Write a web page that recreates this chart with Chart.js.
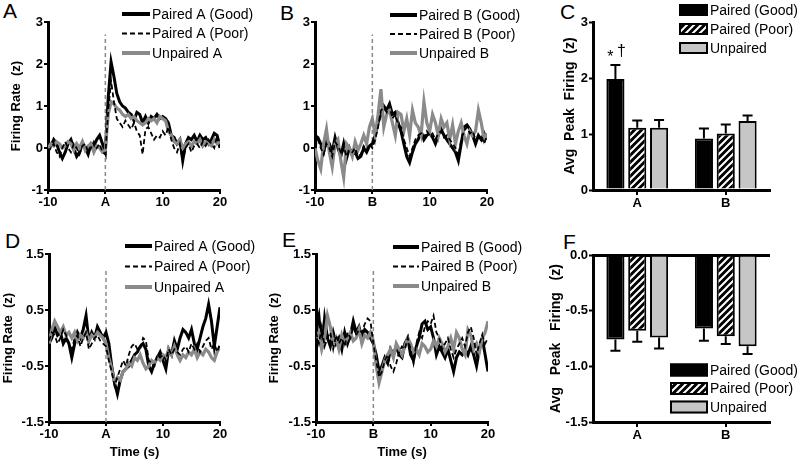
<!DOCTYPE html>
<html>
<head>
<meta charset="utf-8">
<script src="https://cdn.jsdelivr.net/npm/chart.js@4.4.1/dist/chart.umd.min.js"></script>
<style>
  body { margin: 0; background: #fff; width: 800px; height: 463px; position: relative; overflow: hidden;
         font-family: "Liberation Sans", Arial, sans-serif; }
  canvas { position: absolute; }
  .letter { position: absolute; font-size: 21px; line-height: 1; color: #000; }
</style>
</head>
<body>
<div class="letter" style="left:3px;top:0px">A</div>
<div class="letter" style="left:280px;top:2px">B</div>
<div class="letter" style="left:560px;top:1px">C</div>
<div class="letter" style="left:5px;top:230px">D</div>
<div class="letter" style="left:282px;top:229px">E</div>
<div class="letter" style="left:563px;top:231px">F</div>

<canvas id="panelA" width="265" height="225" style="left:0;top:0"></canvas>
<canvas id="panelB" width="265" height="225" style="left:265px;top:0"></canvas>
<canvas id="panelC" width="270" height="225" style="left:530px;top:0"></canvas>
<canvas id="panelD" width="265" height="238" style="left:0;top:225px"></canvas>
<canvas id="panelE" width="265" height="238" style="left:265px;top:225px"></canvas>
<canvas id="panelF" width="270" height="238" style="left:530px;top:225px"></canvas>

<script>
// time bins (s) relative to cue onset
const timeBins = [-10,-9.5,-9,-8.5,-8,-7.5,-7,-6.5,-6,-5.5,-5,-4.5,-4,-3.5,-3,-2.5,-2,-1.5,-1,-0.5,
  0,0.5,1,1.5,2,2.5,3,3.5,4,4.5,5,5.5,6,6.5,7,7.5,8,8.5,9,9.5,
  10,10.5,11,11.5,12,12.5,13,13.5,14,14.5,15,15.5,16,16.5,17,17.5,18,18.5,19,19.5,20];

// A: cue A responses
const aGood = [-0.05,0.05,0.2,0.1,-0.1,-0.25,-0.1,0.1,0.2,0.0,-0.2,-0.1,0.1,0.0,-0.15,0.1,0.05,0.2,0.3,0.1,
  -0.1,1.2,2.05,1.7,1.3,1.1,1.0,0.95,0.85,0.8,
  0.65,0.85,0.8,0.6,0.75,0.6,0.75,0.7,0.8,0.7,
  0.75,0.7,0.6,0.3,0.25,0.1,0.2,-0.3,0.1,0.25,
  0.2,0.3,0.15,0.3,0.2,0.25,0.1,0.2,0.35,0.3,0.0];
const aPoor = [-0.1,0.0,0.1,-0.1,-0.2,0.0,0.15,0.0,-0.1,0.1,0.0,-0.15,0.05,0.1,-0.1,0.0,0.15,0.0,0.1,-0.1,
  -0.15,0.9,1.6,1.1,0.7,0.6,0.5,0.65,0.55,0.45,
  0.6,0.4,0.3,-0.15,0.45,0.5,0.35,0.2,0.3,0.25,
  0.4,0.3,0.5,0.2,0.0,-0.1,0.1,-0.3,0.0,0.1,
  -0.1,0.05,0.1,0.0,0.15,0.05,0.2,0.1,0.0,0.3,0.1];
const aUnpaired = [0.0,0.1,0.05,0.15,0.1,0.0,0.05,0.15,0.1,-0.05,0.1,0.0,0.15,-0.05,0.05,0.1,-0.1,0.05,0.0,-0.1,
  -0.05,0.8,1.1,1.05,0.95,0.9,0.8,0.75,0.8,0.7,
  0.75,0.65,0.6,0.55,0.6,0.7,0.65,0.7,0.6,0.75,
  0.7,0.65,0.4,0.3,0.15,0.1,0.2,0.0,0.1,0.15,
  0.05,0.15,0.1,0.2,0.05,0.15,0.1,0.05,0.2,0.1,0.15];

// B: cue B responses
const bGood = [0.3,0.25,0.1,-0.1,0.2,0.1,-0.1,0.25,0.0,-0.2,0.1,-0.25,0.0,-0.15,-0.1,-0.25,-0.2,0.0,-0.1,0.05,
  0.1,0.3,0.6,0.8,1.0,0.9,1.05,0.8,0.85,0.6,
  0.4,0.1,-0.2,-0.35,-0.1,0.1,0.2,0.4,0.2,0.3,
  0.35,0.25,0.1,0.3,0.45,0.3,0.2,0.1,0.0,-0.1,
  -0.3,0.1,0.5,0.55,0.45,0.3,0.1,0.3,0.2,0.35,0.2];
const bPoor = [0.0,0.2,0.0,-0.15,0.1,0.0,-0.2,0.15,0.05,-0.1,0.05,-0.2,-0.05,-0.1,0.0,-0.2,-0.15,0.05,-0.05,0.1,
  0.0,0.2,0.5,0.9,0.95,0.85,1.0,0.7,0.8,0.55,
  0.5,0.2,0.0,-0.2,0.0,0.2,0.3,0.35,0.25,0.4,
  0.3,0.35,0.2,0.35,0.4,0.25,0.3,0.2,0.1,0.0,
  -0.2,0.2,0.4,0.5,0.35,0.4,0.2,0.25,0.3,0.1,0.3];
const bUnpaired = [0.0,-0.3,-0.5,0.1,0.45,-0.1,-0.45,0.1,0.2,-0.3,-0.7,0.1,0.0,-0.2,0.15,-0.05,0.1,0.3,0.1,0.5,
  0.7,0.3,0.8,1.4,0.5,0.8,0.9,0.6,0.3,0.85,
  0.8,0.4,0.7,0.3,0.9,0.6,0.5,0.3,1.1,0.6,
  0.4,0.8,0.6,0.3,0.7,0.5,0.6,0.2,0.55,0.1,
  0.4,0.6,0.3,0.1,0.4,0.3,0.4,0.9,0.6,0.2,0.35];

// D: cue A responses (second set)
const dGood = [-0.1,0.0,0.2,0.05,0.1,-0.1,0.0,-0.1,-0.35,-0.1,0.1,0.0,0.15,0.4,-0.05,0.1,0.0,0.2,0.1,0.0,
  0.1,-0.1,-0.5,-0.8,-1.0,-0.75,-0.6,-0.55,-0.5,-0.4,
  -0.3,-0.25,-0.15,-0.1,-0.2,-0.5,-0.6,-0.45,-0.35,-0.25,
  -0.4,-0.55,-0.2,-0.3,-0.05,-0.2,0.0,0.15,0.1,0.0,
  0.15,-0.1,-0.2,0.0,0.2,0.35,0.6,0.3,-0.15,0.2,0.55];
const dPoor = [-0.05,0.1,0.05,-0.1,0.0,0.15,0.05,-0.1,-0.2,0.0,0.05,-0.15,0.0,0.1,-0.2,-0.1,0.0,0.05,-0.05,-0.1,
  -0.15,-0.4,-0.6,-0.85,-0.7,-0.55,-0.4,-0.5,-0.3,-0.15,
  -0.1,-0.2,-0.2,0.0,-0.05,-0.4,-0.45,-0.5,-0.3,-0.35,
  -0.3,-0.4,-0.2,-0.3,-0.2,-0.25,-0.3,-0.2,-0.15,-0.25,
  -0.1,-0.2,-0.1,-0.25,-0.15,-0.05,0.0,-0.2,-0.1,-0.25,-0.1];
const dUnpaired = [-0.1,0.15,0.3,0.2,0.1,0.2,0.05,0.1,0.0,0.1,-0.05,0.05,0.0,0.1,-0.05,0.05,0.0,0.1,0.05,0.0,
  -0.1,-0.35,-0.55,-0.8,-0.7,-0.75,-0.6,-0.55,-0.45,-0.5,
  -0.35,-0.4,-0.3,-0.45,-0.55,-0.5,-0.4,-0.45,-0.35,-0.4,
  -0.3,-0.35,-0.2,-0.3,-0.15,-0.3,-0.4,-0.3,-0.35,-0.25,
  -0.3,-0.2,-0.35,-0.25,-0.3,-0.2,-0.25,-0.35,-0.4,-0.25,-0.15];

// E: cue B responses (second set)
const eGood = [0.2,0.4,-0.2,0.35,0.0,-0.15,0.1,-0.1,0.0,-0.2,0.1,-0.1,0.05,0.3,0.1,0.2,0.0,0.15,0.1,0.0,
  -0.1,-0.3,-0.6,-0.5,-0.35,-0.45,-0.2,-0.3,-0.15,-0.3,
  -0.35,-0.1,0.0,-0.3,-0.4,-0.15,0.0,0.25,0.3,0.15,
  0.2,0.0,-0.3,-0.15,-0.25,-0.35,-0.2,-0.4,-0.6,-0.35,
  -0.25,-0.3,-0.2,-0.3,-0.15,-0.3,-0.5,-0.2,0.0,-0.3,-0.6];
const ePoor = [0.1,-0.1,0.2,-0.15,0.0,0.1,-0.2,0.05,-0.1,0.0,-0.15,0.1,0.0,0.2,0.05,0.15,0.1,0.25,0.35,0.3,
  -0.1,-0.4,-0.7,-0.6,-0.4,-0.3,-0.5,-0.6,-0.45,-0.25,
  -0.15,-0.2,0.0,-0.2,-0.45,-0.1,0.1,0.0,0.2,0.3,
  0.25,0.4,0.1,0.0,-0.2,-0.1,0.0,-0.2,-0.35,-0.2,
  -0.1,0.0,-0.15,0.1,0.2,0.0,-0.3,-0.1,0.05,-0.1,0.0];
const eUnpaired = [0.0,0.1,-0.2,0.0,0.4,0.2,-0.1,0.0,-0.2,0.05,-0.1,0.0,0.1,-0.05,0.0,0.15,-0.1,0.05,0.0,0.1,
  -0.05,-0.5,-0.8,-0.6,-0.4,-0.3,-0.2,-0.35,-0.1,-0.2,
  -0.3,-0.15,0.0,-0.1,-0.25,-0.2,-0.3,-0.1,-0.15,-0.25,
  -0.2,-0.05,-0.15,0.0,-0.1,-0.25,-0.15,0.0,-0.2,0.1,
  0.0,-0.2,-0.3,0.15,0.05,-0.2,-0.1,-0.25,0.0,0.1,0.3];

// bar panels C and F
const cueCategories = ['A', 'B'];
const barLabels = ['Paired (Good)', 'Paired (Poor)', 'Unpaired'];
const peakUpGood = [1.98, 0.92];   const peakUpGoodErr = [0.25, 0.18];
const peakUpPoor = [1.11, 1.01];   const peakUpPoorErr = [0.13, 0.16];
const peakUpUnp  = [1.11, 1.23];   const peakUpUnpErr  = [0.14, 0.10];
const peakDownGood = [-0.76, -0.66]; const peakDownGoodErr = [0.10, 0.11];
const peakDownPoor = [-0.68, -0.73]; const peakDownPoorErr = [0.10, 0.07];
const peakDownUnp  = [-0.74, -0.82]; const peakDownUnpErr  = [0.10, 0.07];
const sigMarks = ['* \u2020', ''];

// axis ticks
const xTickValues = [-10, 0, 10, 20];
const xTickLabelsA = ['-10', 'A', '10', '20'];
const xTickLabelsB = ['-10', 'B', '10', '20'];
const yTicksTop = [-1, 0, 1, 2, 3];
const yTicksBottom = [-1.5, -0.5, 0.5, 1.5];
const yTicksC = [0, 1, 2, 3];
const yTickLabelsC = ['0', '1', '2', '3'];
const yTicksF = [-1.5, -1.0, -0.5, 0.0];
const yTickLabelsF = ['-1.5', '-1.0', '-0.5', '0.0'];

Chart.defaults.font.family = '"Liberation Sans", Arial, sans-serif';
Chart.defaults.color = '#000';
Chart.defaults.animation = false;

const FONT = '"Liberation Sans", Arial, sans-serif';
const tickFont = { size: 13, weight: 'bold', family: FONT };
const GRAY_LINE = '#8a8a8a';
const GRAY_BAR = '#c6c6c6';

// legend drawn by hand so it can overlap the plot like the original
const lineLegend = {
  id: 'lineLegend',
  afterDraw(chart, args, o) {
    const ctx = chart.ctx;
    ctx.save();
    ctx.font = '14px ' + FONT;
    ctx.textBaseline = 'middle';
    ctx.fillStyle = '#000';
    let row = 0;
    chart.data.datasets.forEach(ds => {
      if (!ds.label) return;
      const y = o.y + row * o.gap;
      ctx.beginPath();
      ctx.strokeStyle = ds.borderColor;
      ctx.lineWidth = ds.legendWidth || ds.borderWidth;
      ctx.setLineDash(ds.borderDash || []);
      ctx.moveTo(o.x, y);
      ctx.lineTo(o.x + o.len, y);
      ctx.stroke();
      ctx.setLineDash([]);
      ctx.fillText(ds.label, o.x + o.len + 2, y + 1);
      row++;
    });
    ctx.restore();
  }
};

const barLegend = {
  id: 'barLegend',
  afterDraw(chart, args, o) {
    const ctx = chart.ctx;
    ctx.save();
    ctx.font = '14px ' + FONT;
    ctx.textBaseline = 'middle';
    chart.data.datasets.forEach((ds, i) => {
      const yc = o.y + i * o.gap;
      ctx.fillStyle = ds.backgroundColor;
      ctx.fillRect(o.x, yc - o.h / 2, o.w, o.h);
      ctx.strokeStyle = '#000';
      ctx.lineWidth = 2;
      ctx.strokeRect(o.x + 1, yc - o.h / 2 + 1, o.w - 2, o.h - 2);
      ctx.fillStyle = '#000';
      ctx.fillText(ds.label, o.x + o.w + 2, yc + 1);
    });
    ctx.restore();
  }
};

// one-sided SEM bars plus significance marks
const errorBars = {
  id: 'errorBars',
  afterDatasetsDraw(chart) {
    const ctx = chart.ctx;
    const y = chart.scales.y;
    ctx.save();
    ctx.strokeStyle = '#000';
    ctx.lineWidth = 2;
    chart.data.datasets.forEach((ds, i) => {
      chart.getDatasetMeta(i).data.forEach((bar, j) => {
        const v = ds.data[j];
        const end = y.getPixelForValue(v + Math.sign(v) * ds.errors[j]);
        ctx.beginPath();
        ctx.moveTo(bar.x, bar.y);
        ctx.lineTo(bar.x, end);
        ctx.moveTo(bar.x - 5, end);
        ctx.lineTo(bar.x + 5, end);
        ctx.stroke();
        if (ds.marks && ds.marks[j]) {
          ctx.fillStyle = '#000';
          ctx.font = '16px ' + FONT;
          ctx.textAlign = 'center';
          ctx.textBaseline = 'alphabetic';
          ctx.fillText('*', bar.x - 5, end - 3);
          ctx.fillText('\u2020', bar.x + 6, end - 9);
        }
      });
    });
    ctx.restore();
  }
};

function makeHatch() {
  const c = document.createElement('canvas');
  c.width = 7; c.height = 7;
  const g = c.getContext('2d');
  g.fillStyle = '#000';
  g.fillRect(0, 0, 7, 7);
  g.strokeStyle = '#fff';
  g.lineWidth = 2;
  g.beginPath();
  g.moveTo(-1, 8); g.lineTo(8, -1);
  g.moveTo(-4.5, 4.5); g.lineTo(4.5, -4.5);
  g.moveTo(2.5, 11.5); g.lineTo(11.5, 2.5);
  g.stroke();
  return g.createPattern(c, 'repeat');
}
const hatch = makeHatch();

function toXY(values) {
  return timeBins.map((t, i) => ({ x: t, y: values[i] }));
}

function lineChart(id, p) {
  const datasets = [
    { label: p.names[0], data: toXY(p.good), borderColor: '#000', borderWidth: 3, legendWidth: 4, order: 3 },
    { label: p.names[1], data: toXY(p.poor), borderColor: '#000', borderWidth: 1.8, borderDash: [5, 3], order: 1 },
    { label: p.names[2], data: toXY(p.unpaired), borderColor: GRAY_LINE, borderWidth: 3.2, legendWidth: 4, order: 2 },
    { data: [{ x: 0, y: p.yTicks[0] }, { x: 0, y: p.markerTop }], borderColor: '#8a8a8a',
      borderWidth: 1.5, borderDash: [4, 3], order: 9 }
  ];
  return new Chart(document.getElementById(id), {
    type: 'line',
    data: { datasets },
    options: {
      responsive: false,
      elements: { point: { radius: 0 }, line: { tension: 0 } },
      layout: { padding: p.padding },
      plugins: { legend: { display: false }, tooltip: { enabled: false }, lineLegend: p.legend },
      scales: {
        x: {
          type: 'linear', min: -10, max: 20,
          afterBuildTicks: s => { s.ticks = xTickValues.map(v => ({ value: v })); },
          afterFit: s => { s.height = p.xHeight; },
          ticks: { font: tickFont, color: '#000', padding: 1, maxRotation: 0,
                   callback: (v, i) => p.xLabels[i] },
          grid: { display: true, drawOnChartArea: false, color: '#000', lineWidth: 2, tickLength: 4 },
          border: { display: true, color: '#000', width: 3 },
          title: { display: !!p.xTitle, text: p.xTitle, font: { size: 13, weight: 'bold', family: FONT },
                   color: '#000', padding: { top: 0, bottom: 3 } }
        },
        y: {
          type: 'linear', min: p.yTicks[0], max: p.yTicks[p.yTicks.length - 1],
          afterBuildTicks: s => { s.ticks = p.yTicks.map(v => ({ value: v })); },
          afterFit: s => { s.width = p.yWidth; },
          ticks: { font: tickFont, color: '#000', padding: 1 },
          grid: { display: true, drawOnChartArea: false, color: '#000', lineWidth: 2, tickLength: 4 },
          border: { display: true, color: '#000', width: 3 },
          title: { display: !!p.yTitle, text: p.yTitle, font: { size: 13, weight: 'bold', family: FONT },
                   color: '#000', padding: { top: p.yTitlePad, bottom: 0 } }
        }
      }
    },
    plugins: [lineLegend]
  });
}

function barChart(id, p) {
  const fills = ['#000', hatch, GRAY_BAR];
  const datasets = p.values.map((vals, k) => ({
    label: barLabels[k], data: vals, errors: p.errors[k], marks: k === 0 ? p.marks : null,
    backgroundColor: fills[k], borderColor: '#000', borderWidth: 2,
    barPercentage: 0.83, categoryPercentage: 0.74
  }));
  return new Chart(document.getElementById(id), {
    type: 'bar',
    data: { labels: cueCategories, datasets },
    options: {
      responsive: false,
      layout: { padding: p.padding },
      plugins: { legend: { display: false }, tooltip: { enabled: false }, barLegend: p.legend },
      scales: {
        x: {
          afterFit: s => { s.height = p.xHeight; },
          ticks: { font: tickFont, color: '#000', padding: 1 },
          grid: { display: true, offset: false, drawOnChartArea: false, color: '#000', lineWidth: 2, tickLength: 5 },
          border: { display: true, color: '#000', width: 3 }
        },
        y: {
          min: p.yTicks[0], max: p.yTicks[p.yTicks.length - 1],
          afterBuildTicks: s => { s.ticks = p.yTicks.map(v => ({ value: v })); },
          afterFit: s => { s.width = p.yWidth; },
          ticks: { font: tickFont, color: '#000', padding: 1, callback: (v, i) => p.yLabels[i] },
          grid: { display: true, drawOnChartArea: p.zeroLine,
                  color: c => (c.tick && c.tick.value === 0) ? '#000' : 'rgba(0,0,0,0)',
                  tickColor: '#000', lineWidth: 3, tickWidth: 2, tickLength: 4 },
          border: { display: true, color: '#000', width: 3 },
          title: { display: true, text: p.yTitle, font: { size: 14, weight: 'bold', family: FONT },
                   color: '#000', padding: { top: p.yTitlePad, bottom: 0 } }
        }
      }
    },
    plugins: [errorBars, barLegend]
  });
}

lineChart('panelA', {
  good: aGood, poor: aPoor, unpaired: aUnpaired,
  names: ['Paired A (Good)', 'Paired A (Poor)', 'Unpaired A'],
  yTicks: yTicksTop, xLabels: xTickLabelsA, markerTop: 2.7,
  yTitle: 'Firing Rate  (z)', yTitlePad: 9, yWidth: 48, xHeight: 35,
  padding: { top: 22, right: 45, left: 0, bottom: 0 },
  legend: { x: 122, y: 14, gap: 19.5, len: 28 }
});
lineChart('panelB', {
  good: bGood, poor: bPoor, unpaired: bUnpaired,
  names: ['Paired B (Good)', 'Paired B (Poor)', 'Unpaired B'],
  yTicks: yTicksTop, xLabels: xTickLabelsB, markerTop: 2.7,
  yTitle: '', yTitlePad: 0, yWidth: 50, xHeight: 35,
  padding: { top: 22, right: 43, left: 0, bottom: 0 },
  legend: { x: 125, y: 15, gap: 19, len: 27 }
});
lineChart('panelD', {
  good: dGood, poor: dPoor, unpaired: dUnpaired,
  names: ['Paired A (Good)', 'Paired A (Poor)', 'Unpaired A'],
  yTicks: yTicksBottom, xLabels: xTickLabelsA, markerTop: 1.25,
  yTitle: 'Firing Rate  (z)', yTitlePad: 1, yWidth: 49, xHeight: 41, xTitle: 'Time (s)',
  padding: { top: 29, right: 45, left: 0, bottom: 0 },
  legend: { x: 125, y: 21, gap: 20.5, len: 27 }
});
lineChart('panelE', {
  good: eGood, poor: ePoor, unpaired: eUnpaired,
  names: ['Paired B (Good)', 'Paired B (Poor)', 'Unpaired B'],
  yTicks: yTicksBottom, xLabels: xTickLabelsB, markerTop: 1.25,
  yTitle: 'Firing Rate  (z)', yTitlePad: 2, yWidth: 51, xHeight: 41, xTitle: 'Time (s)',
  padding: { top: 29, right: 42, left: 0, bottom: 0 },
  legend: { x: 128, y: 22, gap: 19.5, len: 26 }
});
barChart('panelC', {
  values: [peakUpGood, peakUpPoor, peakUpUnp],
  errors: [peakUpGoodErr, peakUpPoorErr, peakUpUnpErr], marks: sigMarks,
  yTicks: yTicksC, yLabels: yTickLabelsC, zeroLine: false,
  yTitle: 'Avg  Peak  Firing  (z)', yTitlePad: 32, yWidth: 63, xHeight: 35,
  padding: { top: 22, right: 30, left: 0, bottom: 0 },
  legend: { x: 149, y: 10, gap: 19, w: 29, h: 12 }
});
barChart('panelF', {
  values: [peakDownGood, peakDownPoor, peakDownUnp],
  errors: [peakDownGoodErr, peakDownPoorErr, peakDownUnpErr], marks: null,
  yTicks: yTicksF, yLabels: yTickLabelsF, zeroLine: true,
  yTitle: 'Avg   Peak   Firing   (z)', yTitlePad: 18, yWidth: 63, xHeight: 41,
  padding: { top: 30, right: 30, left: 0, bottom: 0 },
  legend: { x: 140, y: 145, gap: 18.5, w: 38, h: 13 }
});
</script>
</body>
</html>
